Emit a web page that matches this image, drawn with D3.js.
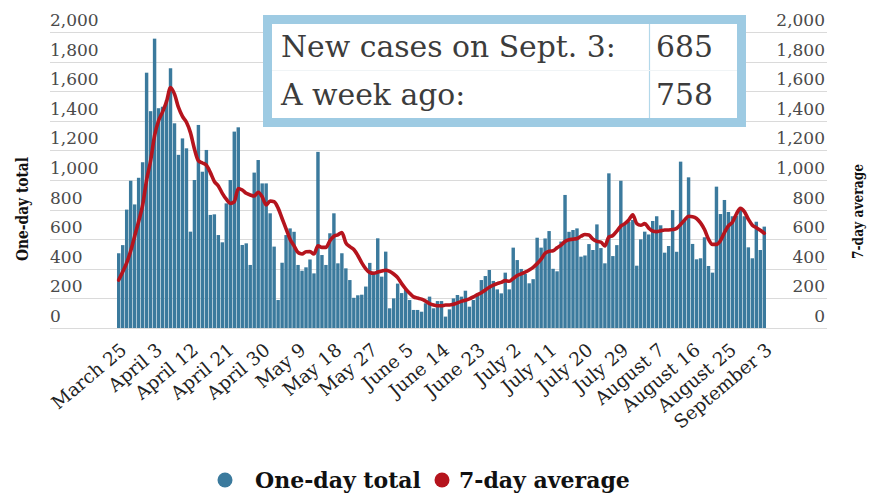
<!DOCTYPE html>
<html>
<head>
<meta charset="utf-8">
<script src="https://cdn.jsdelivr.net/npm/d3@7/dist/d3.min.js"></script>
<style>
  body { margin: 0; background: #fff; }
  svg { display: block; font-family: "DejaVu Serif", serif; }
</style>
</head>
<body>
<svg id="chart" width="871" height="494"></svg>
<script>
// daily new cases, March 25 -> September 3
const oneDay = [
  505, 560, 800, 995, 835, 1015, 1120, 1725, 1465, 1955,
  1485, 1495, 1540, 1755, 1383, 1170, 1281, 1214, 651, 1000,
  1372, 1056, 1203, 764, 768, 628, 579, 842, 1000, 1327,
  1356, 561, 572, 426, 1050, 1135, 977, 977, 775, 550,
  189, 441, 628, 673, 650, 426, 387, 410, 463, 369,
  1190, 493, 426, 640, 775, 437, 505, 403, 324, 204,
  221, 225, 280, 440, 380, 606, 347, 516, 133, 200,
  300, 236, 257, 189, 122, 122, 110, 167, 212, 133,
  182, 182, 77, 126, 200, 223, 212, 252, 144, 189,
  223, 324, 351, 392, 318, 261, 234, 374, 261, 543,
  459, 399, 365, 302, 330, 610, 543, 605, 655, 400,
  383, 584, 899, 650, 662, 673, 482, 490, 567, 527,
  700, 540, 437, 1045, 486, 560, 995, 707, 718, 730,
  421, 599, 651, 632, 723, 755, 694, 509, 554, 797,
  515, 1124, 723, 1018, 568, 464, 471, 613, 419, 374,
  955, 770, 865, 784, 755, 758, 809, 755, 545, 471,
  718, 527, 685
];

// 7-day average, same days
const avg7 = [
  324, 380, 440, 520, 620, 720, 830, 1000, 1130, 1300,
  1400, 1460, 1530, 1625, 1580, 1490, 1430, 1390, 1320, 1210,
  1130, 1115, 1100, 1050, 990, 960, 910, 870, 842, 853,
  943, 932, 910, 899, 892, 917, 887, 831, 858, 853,
  810, 740, 670, 600, 555, 510, 500, 515, 516, 500,
  555, 545, 545, 590, 620, 630, 645, 575, 550, 530,
  490, 440, 400, 375, 370, 378, 385, 390, 382, 365,
  340, 300, 265, 235, 210, 202, 195, 182, 165, 155,
  150, 150, 155, 155, 160, 170, 180, 187, 197, 210,
  225, 238, 257, 275, 290, 300, 308, 320, 316, 335,
  355, 366, 378, 392, 410, 435, 465, 505, 518, 522,
  542, 560, 585, 597, 600, 605, 620, 632, 628, 600,
  585, 580, 555, 615, 625, 655, 688, 705, 730, 765,
  705, 694, 705, 675, 655, 651, 657, 662, 662, 665,
  673, 700, 730, 755, 752, 740, 710, 665, 600, 565,
  565, 590, 645, 690, 715, 770, 809, 786, 735, 695,
  678, 660, 640
];

const tickLabels = ["March 25", "April 3", "April 12", "April 21", "April 30", "May 9",
  "May 18", "May 27", "June 5", "June 14", "June 23", "July 2", "July 11", "July 20",
  "July 29", "August 7", "August 16", "August 25", "September 3"];
const tickStep = 9;

const yTicks = [0, 200, 400, 600, 800, 1000, 1200, 1400, 1600, 1800, 2000];

const boxRows = [
  ["New cases on Sept. 3:", "685"],
  ["A week ago:", "758"]
];

const legendItems = ["One-day total", "7-day average"];

const BLUE = "#3b7a9d";
const RED = "#b5141d";
const fmt = d3.format(",");

const svg = d3.select("#chart");

const x = d3.scaleBand()
  .domain(d3.range(oneDay.length))
  .range([117, 766])
  .paddingInner(0.14);

const y = d3.scaleLinear().domain([0, 2000]).range([328, 32]);

// shrink/grow a text node's font so it spans a given width
function fitWidth(sel, w) {
  const len = sel.node().getComputedTextLength();
  const cur = parseFloat(sel.style("font-size"));
  sel.style("font-size", (cur * w / len).toFixed(2) + "px");
}

// gridlines
svg.append("g")
  .selectAll("line")
  .data(yTicks)
  .join("line")
  .attr("x1", 50).attr("x2", 827)
  .attr("y1", d => Math.round(y(d)) + 0.5)
  .attr("y2", d => Math.round(y(d)) + 0.5)
  .attr("stroke", "#dadada");

// left + right tick labels sit above the gridlines
svg.append("g")
  .selectAll("text")
  .data(yTicks)
  .join("text")
  .attr("x", 50)
  .attr("y", d => y(d) - 6)
  .attr("fill", "#4a4a4a")
  .style("font-size", "17px")
  .text(fmt);

svg.append("g")
  .selectAll("text")
  .data(yTicks)
  .join("text")
  .attr("x", 825)
  .attr("y", d => y(d) - 6)
  .attr("text-anchor", "end")
  .attr("fill", "#4a4a4a")
  .style("font-size", "17px")
  .text(fmt);

// bars
svg.append("g")
  .selectAll("rect")
  .data(oneDay)
  .join("rect")
  .attr("x", (d, i) => x(i))
  .attr("width", x.bandwidth())
  .attr("y", d => y(d))
  .attr("height", d => y(0) - y(d))
  .attr("fill", BLUE);

// 7-day average
const line = d3.line()
  .x((d, i) => x(i) + x.bandwidth() / 2)
  .y(d => y(d))
  .curve(d3.curveMonotoneX);

svg.append("path")
  .datum(avg7)
  .attr("d", line)
  .attr("fill", "none")
  .attr("stroke", RED)
  .attr("stroke-width", 3.6)
  .attr("stroke-linejoin", "round")
  .attr("stroke-linecap", "round");

// x axis
const xAxis = d3.axisBottom(x)
  .tickValues(d3.range(0, oneDay.length, tickStep))
  .tickFormat((d, i) => tickLabels[i])
  .tickSize(0);

const gx = svg.append("g")
  .attr("transform", "translate(0,330)")
  .call(xAxis);
gx.select(".domain").remove();
gx.selectAll("text")
  .attr("x", 0).attr("y", 0).attr("dy", 0)
  .attr("text-anchor", "end")
  .attr("transform", "translate(9,22) rotate(-40)")
  .attr("fill", "#222")
  .attr("font-family", "DejaVu Serif, serif")
  .attr("font-size", 18.5);

// axis titles (slab face is narrow, so squeeze the bold serif a little)
svg.append("text")
  .attr("text-anchor", "middle")
  .attr("transform", "translate(28,209) rotate(-90)")
  .attr("fill", "#111")
  .attr("textLength", 104)
  .attr("lengthAdjust", "spacingAndGlyphs")
  .style("font-weight", "bold")
  .style("font-size", "16.5px")
  .text("One-day total");

svg.append("text")
  .attr("text-anchor", "middle")
  .attr("transform", "translate(863,211.5) rotate(-90)")
  .attr("fill", "#111")
  .attr("textLength", 95)
  .attr("lengthAdjust", "spacingAndGlyphs")
  .style("font-weight", "bold")
  .style("font-size", "15.5px")
  .text("7-day average");

// info box
const box = svg.append("g");
box.append("rect")
  .attr("x", 267.5).attr("y", 19.5)
  .attr("width", 474).attr("height", 103)
  .attr("fill", "#fff")
  .attr("stroke", "#9ecbe3")
  .attr("stroke-width", 9);
box.append("line")
  .attr("x1", 649.5).attr("x2", 649.5)
  .attr("y1", 24).attr("y2", 118)
  .attr("stroke", "#b3d8ea").attr("stroke-width", 1.2);
box.append("line")
  .attr("x1", 272).attr("x2", 737)
  .attr("y1", 70.5).attr("y2", 70.5)
  .attr("stroke", "#f0f4f6").attr("stroke-width", 1);

const rowY = [57, 105];
const labels = box.selectAll("text.lab")
  .data(boxRows)
  .join("text")
  .attr("class", "lab")
  .attr("x", 281)
  .attr("y", (d, i) => rowY[i])
  .attr("fill", "#3c3c3c")
  .style("font-size", "25px")
  .text(d => d[0]);
fitWidth(labels.filter((d, i) => i === 0), 335);
const boxSize = labels.filter((d, i) => i === 0).style("font-size");
labels.style("font-size", boxSize);

box.selectAll("text.val")
  .data(boxRows)
  .join("text")
  .attr("class", "val")
  .attr("x", 656)
  .attr("y", (d, i) => rowY[i])
  .attr("fill", "#3c3c3c")
  .style("font-size", boxSize)
  .text(d => d[1]);

// legend
const legend = svg.append("g");
const legX = [{ dot: 225, text: 255 }, { dot: 442, text: 459 }];
const legColors = [BLUE, RED];
legendItems.forEach((lab, i) => {
  legend.append("circle")
    .attr("cx", legX[i].dot).attr("cy", 480).attr("r", 7.5)
    .attr("fill", legColors[i]);
  const t = legend.append("text")
    .attr("x", legX[i].text).attr("y", 488)
    .attr("fill", "#111")
    .style("font-weight", "bold")
    .style("font-size", "20px")
    .text(lab);
  if (i === 0) fitWidth(t, 166);
  else t.style("font-size", legend.select("text").style("font-size"));
});
</script>
</body>
</html>
